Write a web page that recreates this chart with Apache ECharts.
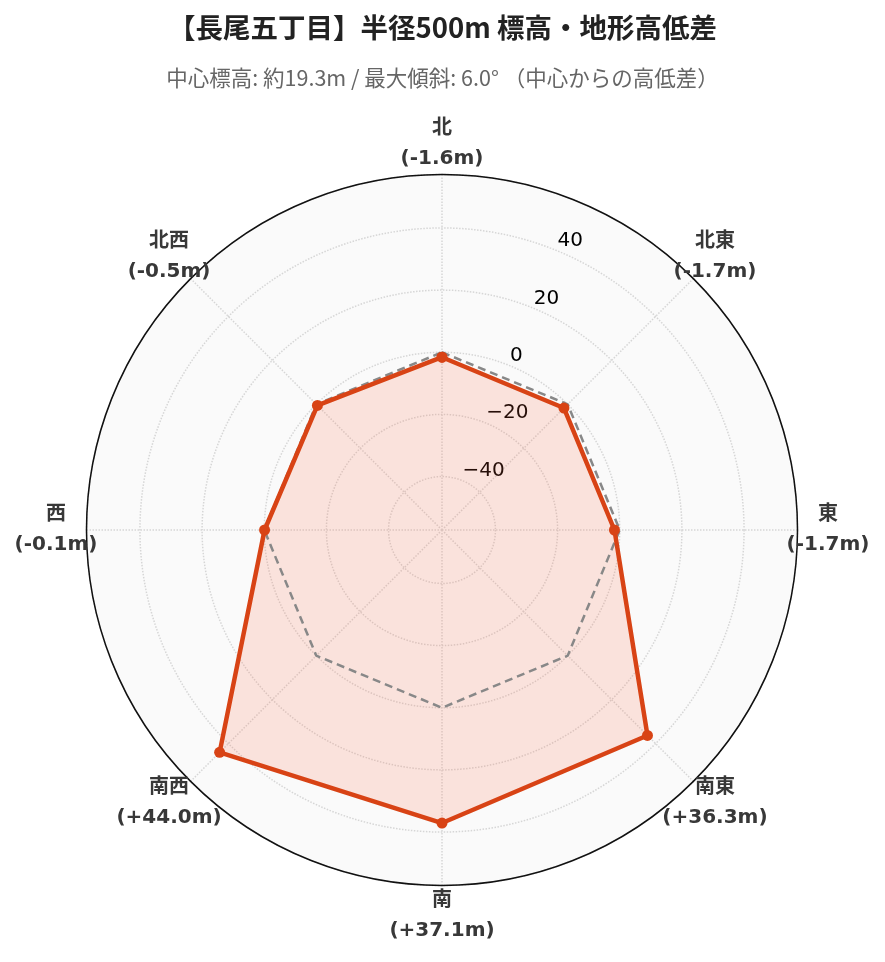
<!DOCTYPE html>
<html><head><meta charset="utf-8">
<script src="https://cdn.jsdelivr.net/npm/echarts@6/dist/echarts.min.js"></script>
<style>html,body{margin:0;padding:0;background:#fff}#c{width:885px;height:962px}</style>
</head><body><div id="c"></div>
<script>
const titleText = '【長尾五丁目】半径500m 標高・地形高低差';
const subtitleText = '中心標高: 約19.3m / 最大傾斜: 6.0° （中心からの高低差）';
const directions = ['北', '北東', '東', '南東', '南', '南西', '西', '北西'];
const directionAngles = [0, 45, 90, 135, 180, 225, 270, 315];
const elevationDiffs = [-1.6, -1.7, -1.7, 36.3, 37.1, 44.0, -0.1, -0.5];
const centerReference = [0, 0, 0, 0, 0, 0, 0, 0];
const radialRange = [-57.2, 57.2];
const radialTickLabels = [-40, -20, 0, 20, 40];

function closeLoop(values) {
  const pts = values.map((v, i) => [v, directionAngles[i]]);
  pts.push([values[0], 360]);
  return pts;
}
function diffText(v) {
  return '(' + (v > 0 ? '+' : '') + v.toFixed(1) + 'm)';
}

const CENTER = [442, 530];
const R = 355.5;
const LATIN_CJK = "'DejaVu Sans', 'Noto Sans CJK JP', sans-serif";
const RED = '#d84315';

const chart = echarts.init(document.getElementById('c'), null, {renderer: 'canvas'});
chart.setOption({
  backgroundColor: '#ffffff',
  animation: false,
  title: [
    {text: titleText, left: 'center', top: 9,
     textStyle: {fontSize: 27.5, fontWeight: 'bold', color: '#222', fontFamily: "'Noto Sans CJK JP', sans-serif"}},
    {text: subtitleText, left: 'center', top: 62,
     textStyle: {fontSize: 21.5, fontWeight: 'normal', color: '#666', fontFamily: "'Noto Sans CJK JP', sans-serif"}}
  ],
  polar: [
    {center: CENTER, radius: R},
    {center: CENTER, radius: R},
    {center: CENTER, radius: 386}
  ],
  angleAxis: [
    {polarIndex: 0, type: 'value', min: 0, max: 360, interval: 45, startAngle: 90, clockwise: true, z: 1,
     axisLine: {show: true, lineStyle: {color: '#111', width: 1.5}},
     axisTick: {show: false}, axisLabel: {show: false},
     splitLine: {show: true, lineStyle: {color: '#d6d6d6', width: 1.5, type: 'dotted'}},
     splitArea: {show: false}},
    {polarIndex: 1, type: 'value', min: 0, max: 360, startAngle: 67.5, clockwise: true,
     axisLine: {show: false}, axisTick: {show: false}, axisLabel: {show: false}, splitLine: {show: false}},
    {polarIndex: 2, type: 'value', min: 0, max: 360, startAngle: 90, clockwise: true, show: false}
  ],
  radiusAxis: [
    {polarIndex: 0, type: 'value', min: radialRange[0], max: radialRange[1], splitNumber: 5, z: 0,
     axisLine: {show: false}, axisTick: {show: false}, axisLabel: {show: false},
     splitLine: {show: false},
     splitArea: {show: true, areaStyle: {color: ['#fafafa']}}},
    {polarIndex: 1, type: 'value', min: radialRange[0], max: radialRange[1], splitNumber: 5, z: 1,
     axisLine: {show: false}, axisTick: {show: false},
     splitLine: {show: true, lineStyle: {color: '#d6d6d6', width: 1.5, type: 'dotted'}},
     axisLabel: {show: true, margin: 0, align: 'left', verticalAlign: 'bottom', showMinLabel: false, showMaxLabel: false,
       color: '#000', fontSize: 20, fontFamily: 'DejaVu Sans',
       formatter: function (v) { return radialTickLabels.indexOf(v) >= 0 ? String(v).replace('-', '\u2212') : ''; }}},
    {polarIndex: 2, type: 'value', min: 0, max: 1, show: false}
  ],
  series: [
    {type: 'line', coordinateSystem: 'polar', polarIndex: 0, z: 2, silent: true,
     data: closeLoop(elevationDiffs), symbol: 'none',
     lineStyle: {width: 0, opacity: 0},
     areaStyle: {origin: 'start', color: 'rgba(255,100,60,0.22)'}},
    {type: 'line', coordinateSystem: 'polar', polarIndex: 0, z: 3, silent: true,
     data: closeLoop(centerReference), symbol: 'none',
     lineStyle: {color: '#888888', width: 2.5, type: [8, 5]}},
    {type: 'line', coordinateSystem: 'polar', polarIndex: 0, z: 4,
     data: closeLoop(elevationDiffs), symbol: 'circle', symbolSize: 11,
     itemStyle: {color: RED, borderWidth: 0, borderColor: RED},
     lineStyle: {color: RED, width: 4.5}},
    {type: 'scatter', coordinateSystem: 'polar', polarIndex: 2, z: 5, silent: true,
     data: directions.map((d, i) => [1, directionAngles[i]]),
     symbolSize: 1, itemStyle: {color: 'rgba(0,0,0,0)'},
     label: {show: true, position: 'inside', align: 'center', verticalAlign: 'middle',
       fontFamily: LATIN_CJK, fontWeight: 'bold', fontSize: 20, color: '#383838', lineHeight: 30,
       textBorderWidth: 0, textBorderColor: 'transparent', opacity: 1,
       formatter: function (p) { return directions[p.dataIndex] + '\n' + diffText(elevationDiffs[p.dataIndex]); }}}
  ]
});
</script>
</body></html>
